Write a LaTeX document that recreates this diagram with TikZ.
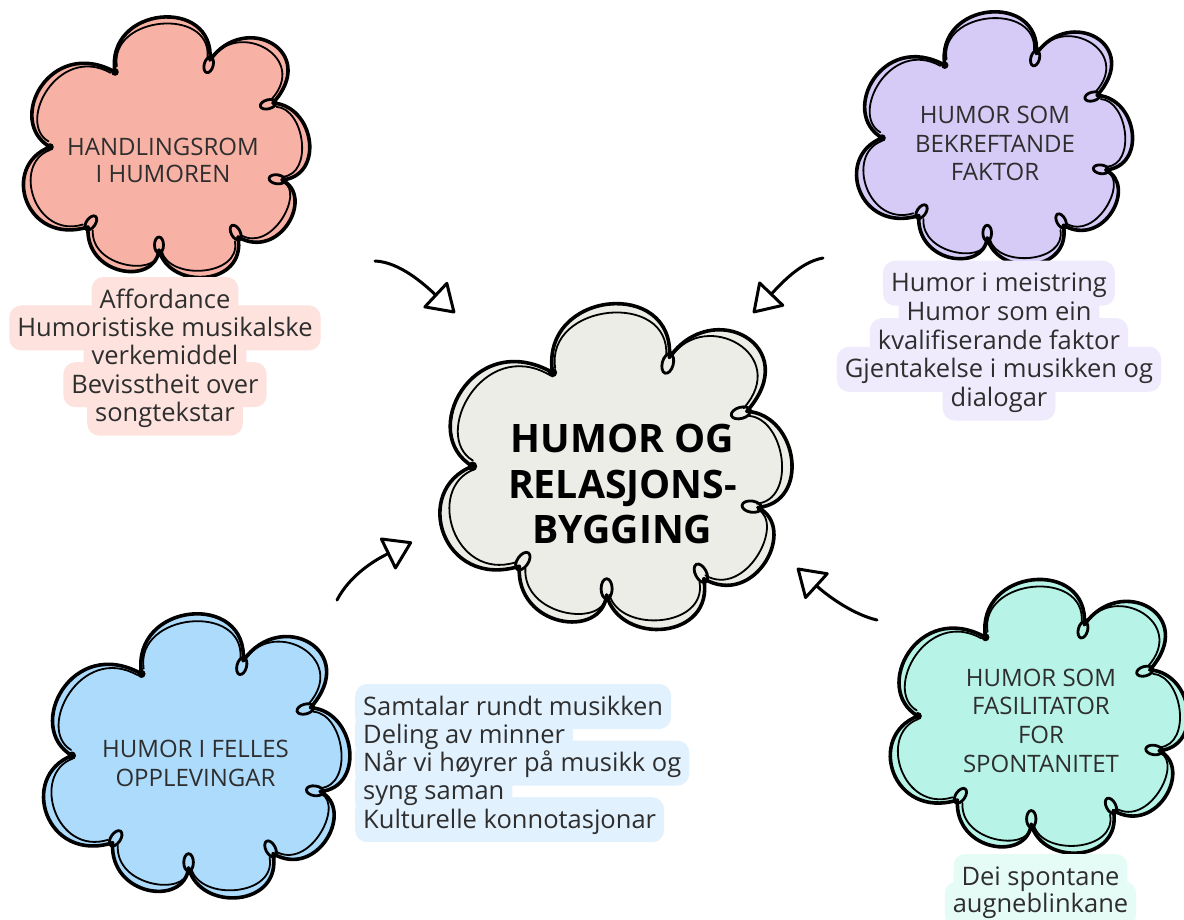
\documentclass[tikz,border=0pt]{standalone}
\usepackage{fontspec}
\setmainfont{Open Sans}
\usetikzlibrary{arrows.meta}
\definecolor{redfill}{HTML}{F8B2A5}
\definecolor{redhl}{HTML}{FDE2DD}
\definecolor{purfill}{HTML}{D5CBF6}
\definecolor{purhl}{HTML}{EFEBFD}
\definecolor{grefill}{HTML}{EDEDE7}
\definecolor{blufill}{HTML}{ACDBFC}
\definecolor{bluhl}{HTML}{E1F1FE}
\definecolor{teafill}{HTML}{B7F4E7}
\definecolor{teahl}{HTML}{E5FBF5}
\definecolor{ink}{HTML}{2E2E2E}
\tikzset{
  cloudout/.style={draw=black, line width=3.6pt, line join=round, line cap=round},
  cloudin/.style={draw=black, line width=1.8pt, line cap=round},
  curlline/.style={draw=black, line width=2.8pt},
  hlbox/.style={rounded corners=12pt, inner xsep=8pt, inner ysep=8pt, text height=23pt, text depth=6pt, font=\fontsize{25.5}{28}\selectfont},
  hltext/.style={hlbox, text=ink},
  cloudlabel/.style={text=ink, inner sep=0pt, font=\fontsize{24}{28}\selectfont},
  titlelabel/.style={text=black, inner sep=0pt, font=\fontsize{39.2}{45}\selectfont\bfseries},
  flowarrow/.style={line width=3pt, line cap=round, -{Triangle[open, length=29pt, width=37pt, round]}},
}
\newcommand\cloudshape[5]{%
\begin{scope}[shift={(#1,#2)}, xscale=#3, yscale=#4]
  \path[cloudout, fill=#5] (-115,1) .. controls (-160,-25) and (-115,-110) .. (-50,-74)
   .. controls (-60,-140) and (50,-150) .. (45,-86)
   .. controls (80,-135) and (155,-95) .. (108,-43)
   .. controls (150,-40) and (160,30) .. (117,34)
   .. controls (150,50) and (115,115) .. (73,91)
   .. controls (82,140) and (5,145) .. (-6,104)
   .. controls (-10,140) and (-80,130) .. (-77,81)
   .. controls (-140,100) and (-165,20) .. (-115,1) -- cycle;
  \begin{scope}[scale=0.93]
   \draw[cloudin, shorten <=11pt, shorten >=9pt] (-115,1) .. controls (-160,-25) and (-115,-110) .. (-50,-74);
   \draw[cloudin, shorten <=11pt, shorten >=9pt] (-50,-74) .. controls (-60,-140) and (50,-150) .. (45,-86);
   \draw[cloudin, shorten <=11pt, shorten >=9pt] (45,-86) .. controls (80,-135) and (155,-95) .. (108,-43);
   \draw[cloudin, shorten <=11pt, shorten >=9pt] (108,-43) .. controls (150,-40) and (160,30) .. (117,34);
   \draw[cloudin, shorten <=11pt, shorten >=9pt] (117,34) .. controls (150,50) and (115,115) .. (73,91);
   \draw[cloudin, shorten <=11pt, shorten >=9pt] (73,91) .. controls (82,140) and (5,145) .. (-6,104);
   \draw[cloudin, shorten <=11pt, shorten >=9pt] (-6,104) .. controls (-10,140) and (-80,130) .. (-77,81);
   \draw[cloudin, shorten <=11pt, shorten >=9pt] (-77,81) .. controls (-140,100) and (-165,20) .. (-115,1);
  \end{scope}
  \draw[curlline, shift={(45,-86)}, rotate=255] (5,0) ellipse (8 and 4.5);
  \draw[curlline, shift={(108,-43)}, rotate=195] (5,0) ellipse (8 and 4.5);
  \draw[curlline, shift={(117,34)}, rotate=172] (5,0) ellipse (8 and 4.5);
  \draw[curlline, shift={(73,91)}, rotate=118] (5,0) ellipse (8 and 4.5);
  \draw[curlline, shift={(-6,104)}, rotate=90] (5,0) ellipse (8 and 4.5);
  \draw[curlline, shift={(-77,81)}, rotate=55] (5,0) ellipse (8 and 4.5);
  \fill (-50,-74) circle (3.8);
  \fill (-115,1) circle (3.8);
\end{scope}}
\newcommand\textblock[7]{%
  \foreach \t [count=\i] in {#7}{
    \node[hlbox, fill=#6, text=#6, anchor=#5] (#1bg\i) at (#2,{#3+#4*(\i-1)}) {\t};}
  \foreach \t [count=\i] in {#7}{
    \node[hltext, anchor=#5] (#1\i) at (#2,{#3+#4*(\i-1)}) {\t};}
}
\newcommand\labelblock[6]{%
  \foreach \t [count=\i] in {#6}{
    \node[#5, anchor=base] (#1\i) at (#2,{#3+#4*(\i-1)}) {\t};}
}
\begin{document}
\begin{tikzpicture}[x=1pt, y=-1pt]
\useasboundingbox (0,0) rectangle (1184,919);
\fill[white] (0,0) rectangle (1184,919);
% clouds
\cloudshape{165}{146}{1}{1}{redfill}
\cloudshape{993}{137}{0.964}{0.97}{purfill}
\cloudshape{614}{465}{1.23}{1.25}{grefill}
\cloudshape{195}{754.5}{1.07}{1.09}{blufill}
\cloudshape{1037.5}{715}{1.04}{1.05}{teafill}
% labels
\labelblock{labR}{163}{155}{27.7}{cloudlabel}{HANDLINGSROM, I HUMOREN}
\labelblock{labP}{995}{123.5}{28.5}{cloudlabel}{HUMOR SOM, BEKREFTANDE, FAKTOR}
\labelblock{labB}{195.5}{757.3}{29.4}{cloudlabel}{HUMOR I FELLES, OPPLEVINGAR}
\labelblock{labT}{1041}{686}{28.9}{cloudlabel}{HUMOR SOM, FASILITATOR, FOR, SPONTANITET}
\labelblock{title}{622.5}{452.7}{45.3}{titlelabel}{HUMOR OG, RELASJONS-, BYGGING}
% text blocks
\textblock{txR}{165}{308}{28.4}{base}{redhl}{Affordance, Humoristiske musikalske, verkemiddel, Bevisstheit over, songtekstar}
\textblock{txP}{999}{291.7}{28.7}{base}{purhl}{Humor i meistring, Humor som ein, kvalifiserande faktor, Gjentakelse i musikken og, dialogar}
\textblock{txB}{355}{715}{28.3}{base west}{bluhl}{Samtalar rundt musikken, Deling av minner, Når vi høyrer på musikk og, syng saman, Kulturelle konnotasjonar}
\textblock{txT}{1040.5}{885}{27.5}{base}{teahl}{Dei spontane, augneblinkane}
% arrows
\coordinate (a1s) at (375,261); \coordinate (a1e) at (455,313);
\coordinate (a2s) at (823,258); \coordinate (a2e) at (753,313);
\coordinate (a3s) at (337,600); \coordinate (a3e) at (412,542);
\coordinate (a4s) at (877,620); \coordinate (a4e) at (797,568);
\draw[flowarrow] (a1s) .. controls (400,262) and (425,285) .. (a1e);
\draw[flowarrow] (a2s) .. controls (800,262) and (780,285) .. (a2e);
\draw[flowarrow] (a3s) .. controls (350,575) and (375,560) .. (a3e);
\draw[flowarrow] (a4s) .. controls (855,615) and (830,598) .. (a4e);
\end{tikzpicture}
\end{document}
